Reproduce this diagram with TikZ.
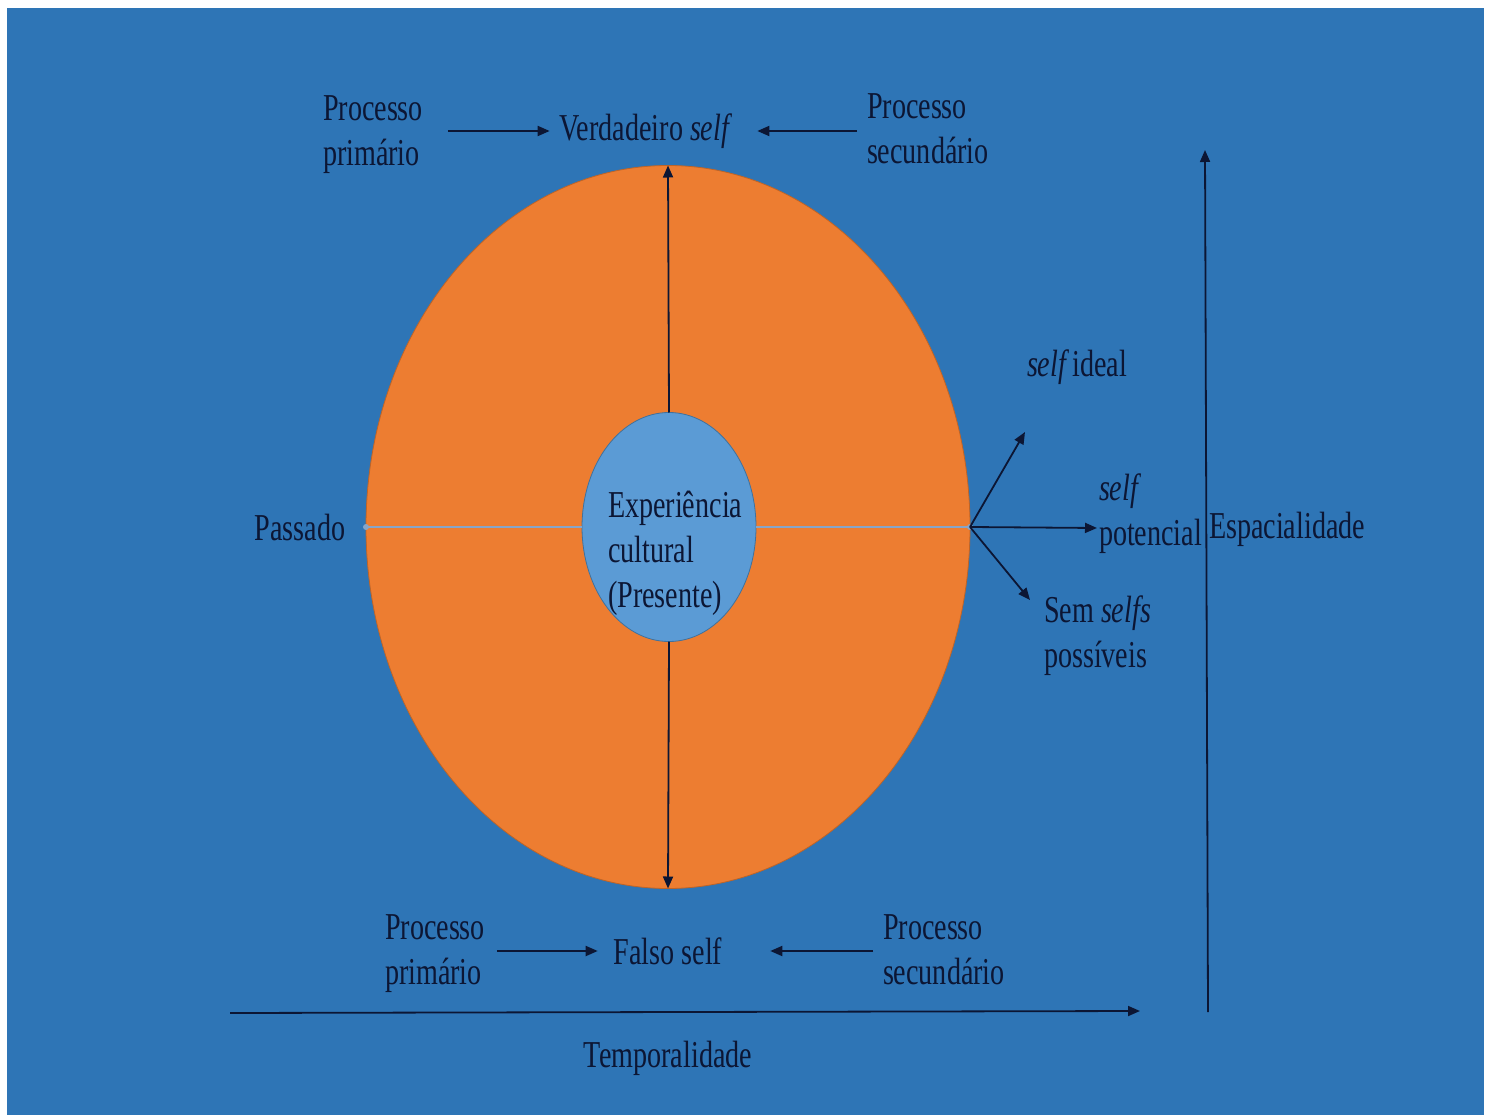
\documentclass[tikz,border=0pt]{standalone}
\usepackage{fontspec}
\setmainfont{Liberation Serif}[FakeStretch=0.74]
\usetikzlibrary{arrows.meta,shapes.geometric}
\definecolor{bg}{RGB}{46,117,182}
\definecolor{orng}{RGB}{237,125,49}
\definecolor{innerc}{RGB}{91,155,213}
\definecolor{ink}{RGB}{12,22,52}
\definecolor{axisc}{RGB}{135,165,200}
\begin{document}
\begin{tikzpicture}[x=1pt,y=-1pt,
  lbl/.style={text=ink,font=\fontsize{38}{45}\selectfont,inner sep=0pt,outer sep=0pt,align=left},
  arr/.style={draw=ink,line width=1.8pt,-{Triangle[length=12pt,width=10pt]}},
  axisline/.style={draw=axisc,line width=2.2pt}]
\useasboundingbox (0,0) rectangle (1494,1115);
\fill[white] (0,0) rectangle (1494,1115);
\fill[bg] (7,8) rectangle (1484,1115);

% ellipses
\node[ellipse,fill=orng,draw=orng!80!black,line width=0.8pt,minimum width=604pt,minimum height=723pt,inner sep=0pt,outer sep=0pt] (big) at (668,527) {};
\node[ellipse,fill=innerc,draw={rgb,255:red,65;green,113;blue,156},line width=0.8pt,minimum width=174pt,minimum height=229pt,inner sep=0pt,outer sep=0pt] (inner) at (669,527) {};
\node[lbl,anchor=west] (exp) at (608,553) {Experiência\\cultural\\(Presente)};

% horizontal light axis
\draw[axisline] (big.west) -- (inner.west);
\draw[axisline] (inner.east) -- (big.east);
\fill[axisc] (big.west) circle (3pt);
\fill[axisc] (big.east) circle (3pt);

% vertical arrows
\draw[arr] (inner.north) -- (big.north);
\draw[arr] (inner.south) -- (big.south);

% top labels
\node[lbl] (vs) at (646,131) {Verdadeiro \textit{self}};
\node[lbl,anchor=west] (pp1) at (323,135) {Processo\\primário};
\node[lbl,anchor=west] (ps1) at (867,129) {Processo\\secundário};
\draw[arr,shorten <=25pt,shorten >=10pt] (pp1.east |- vs) -- (vs.west);
\draw[arr,shorten <=10pt,shorten >=25pt] (ps1.west |- vs) -- (vs.east);

% bottom labels
\node[lbl] (fs) at (668,951) {Falso self};
\node[lbl,anchor=west] (pp2) at (385,954) {Processo\\primário};
\node[lbl,anchor=west] (ps2) at (883,950) {Processo\\secundário};
\draw[arr,shorten <=12pt,shorten >=16pt] (pp2.east |- fs) -- (fs.west);
\draw[arr,shorten <=10pt,shorten >=48pt] (ps2.west |- fs) -- (fs.east);

% left
\node[lbl] (pas) at (300,528) {Passado};

% right arrows
\coordinate (ideal) at (1025,432);
\coordinate (pot) at (1097,528);
\coordinate (sem) at (1030,600);
\draw[arr] (big.east) -- (ideal);
\draw[arr] (big.east) -- (pot);
\draw[arr] (big.east) -- (sem);
\node[lbl,anchor=west] (idealt) at (1027,367) {\textit{self}\hspace{-4pt} ideal};
\node[lbl,anchor=west] (pott) at (1099,514) {\textit{self}\\potencial};
\node[lbl,anchor=west] (semt) at (1044,636) {Sem \textit{selfs}\\possíveis};

% axes
\coordinate (vb) at (1208,1012);
\coordinate (vt) at (1205,150);
\draw[arr] (vb) -- (vt);
\node[lbl,anchor=west] (esp) at (1209,529) {Espacialidade};
\coordinate (hl) at (230,1013);
\coordinate (hr) at (1140,1011);
\draw[arr] (hl) -- (hr);
\node[lbl] (temp) at (668,1058) {Temporalidade};
\end{tikzpicture}
\end{document}
